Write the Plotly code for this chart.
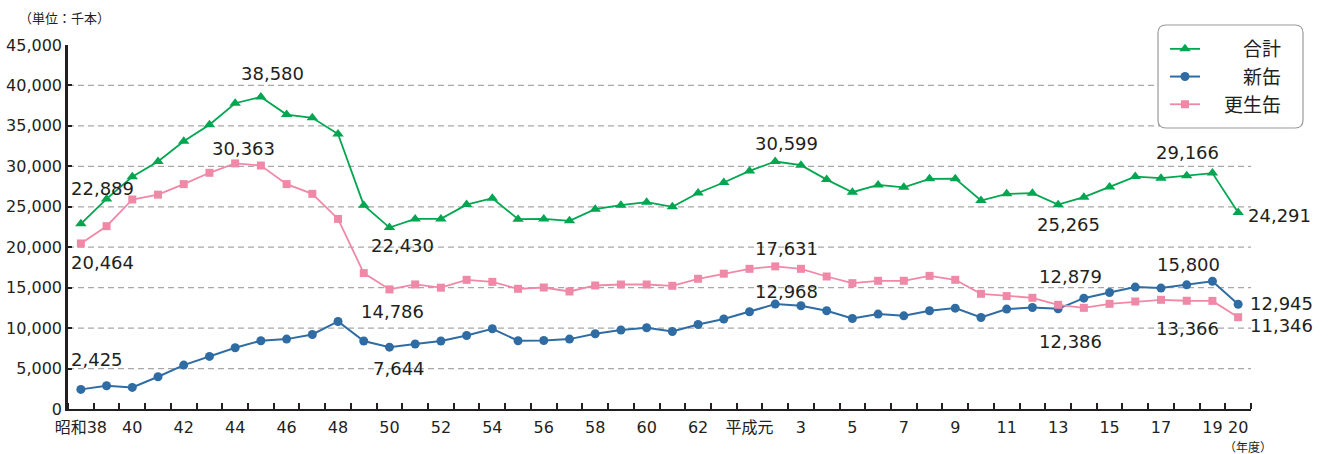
import plotly.graph_objects as go

# ---------------- data ----------------
years = (["昭和" + str(38)] + [str(y) for y in range(39, 64)]
         + ["平成元"] + [str(y) for y in range(2, 21)])

total = [22889, 25970, 28700, 30600, 33100, 35150, 37800, 38580, 36400, 36000,
         34000, 25200, 22430, 23500, 23500, 25270, 26060, 23470, 23500, 23260,
         24700, 25200, 25570, 25000, 26700, 28000, 29430, 30599, 30140, 28360,
         26800, 27700, 27400, 28450, 28480, 25770, 26600, 26680, 25265, 26190,
         27460, 28730, 28530, 28850, 29166, 24291]

new_cans = [2425, 2880, 2670, 3990, 5430, 6500, 7570, 8440, 8640, 9210,
            10820, 8400, 7644, 8030, 8400, 9090, 9920, 8440, 8470, 8640,
            9300, 9760, 10040, 9580, 10450, 11120, 12020, 12968, 12760, 12140,
            11190, 11730, 11520, 12140, 12470, 11310, 12350, 12550, 12386, 13700,
            14400, 15070, 14950, 15350, 15800, 12945]

renewed_cans = [20464, 22600, 25900, 26500, 27800, 29200, 30363, 30100, 27800, 26600,
                23500, 16800, 14786, 15400, 15000, 15970, 15720, 14860, 15020, 14530,
                15270, 15390, 15390, 15230, 16100, 16730, 17330, 17631, 17330, 16380,
                15560, 15850, 15850, 16460, 15970, 14240, 13960, 13750, 12879, 12510,
                13000, 13290, 13500, 13380, 13366, 11346]

tick_text = ["昭和38", "40", "42", "44", "46", "48", "50", "52", "54", "56", "58",
             "60", "62", "平成元", "3", "5", "7", "9", "11", "13", "15", "17", "19", "20"]

y_ticks = [0, 5000, 10000, 15000, 20000, 25000, 30000, 35000, 40000, 45000]
grid_values = [5000, 10000, 15000, 20000, 25000, 30000, 35000, 40000]

series_names = ["合計", "新缶", "更生缶"]

# ---------------- style ----------------
W_FIG, H_FIG = 1328, 454
L, R, T, B = 68, 77, 45, 45
PW, PH = W_FIG - L - R, H_FIG - T - B

TEXT = "#231f20"
NUM_FONT = "DejaVu Sans, Noto Sans CJK JP"
JP_FONT = "Noto Sans CJK JP, DejaVu Sans"

styles = {
    "合計": dict(color="#00a650", symbol="triangle-up", size=10, width=1.8),
    "新缶": dict(color="#2f6ca3", symbol="circle", size=9, width=2),
    "更生缶": dict(color="#f088a8", symbol="square", size=8, width=1.8),
}
legend_text = {"合計": "\u3000\u3000合計", "新缶": "\u3000\u3000新缶", "更生缶": "\u3000更生缶"}
values = {"合計": total, "新缶": new_cans, "更生缶": renewed_cans}

# (series, index, xshift, yshift, xanchor)
label_specs = [
    ("合計", 0, 22, 35, "center"),
    ("更生缶", 0, 22, -19, "center"),
    ("新缶", 0, 16, 30, "center"),
    ("合計", 7, 12, 23, "center"),
    ("更生缶", 6, 8, 15, "center"),
    ("合計", 12, 13, -18, "center"),
    ("更生缶", 12, 3, -22, "center"),
    ("新缶", 12, 10, -21, "center"),
    ("合計", 27, 11, 18, "center"),
    ("更生缶", 27, 11, 18, "center"),
    ("新缶", 27, 11, 13, "center"),
    ("合計", 38, 10, -20, "center"),
    ("更生缶", 38, 12, 28, "center"),
    ("新缶", 38, 12, -33, "center"),
    ("合計", 44, -25, 21, "center"),
    ("新缶", 44, -24, 17, "center"),
    ("更生缶", 44, -25, -28, "center"),
    ("合計", 45, 8, -3, "left"),
    ("新缶", 45, 10, 1, "left"),
    ("更生缶", 45, 10, -8, "left"),
]


def px(xp):
    return (xp - L) / PW


def py(yp):
    return (T + PH - yp) / PH


x_idx = list(range(len(years)))

fig = go.Figure()
for name in series_names:
    st = styles[name]
    fig.add_trace(go.Scatter(
        x=x_idx, y=values[name], mode="lines+markers", name=legend_text[name],
        line=dict(color=st["color"], width=st["width"]),
        marker=dict(symbol=st["symbol"], size=st["size"], color=st["color"]),
        cliponaxis=False,
    ))

for s, i, dx, dy, anchor in label_specs:
    v = values[s][i]
    fig.add_annotation(x=i, y=v, text=f"{v:,}", showarrow=False,
                       xshift=dx, yshift=dy, xanchor=anchor, yanchor="middle",
                       font=dict(family=NUM_FONT, size=18, color=TEXT))

# grid lines (dashed)
for g in grid_values:
    fig.add_shape(type="line", xref="paper", yref="y", x0=0, x1=1, y0=g, y1=g,
                  line=dict(color="#a8a8a8", width=1.2, dash="6px,4px"), layer="below")

# rounded legend box
x0, x1, y0, y1, r = 1158, 1303, 25, 128, 8
path = (f"M {px(x0 + r)},{py(y0)} L {px(x1 - r)},{py(y0)} "
        f"Q {px(x1)},{py(y0)} {px(x1)},{py(y0 + r)} "
        f"L {px(x1)},{py(y1 - r)} Q {px(x1)},{py(y1)} {px(x1 - r)},{py(y1)} "
        f"L {px(x0 + r)},{py(y1)} Q {px(x0)},{py(y1)} {px(x0)},{py(y1 - r)} "
        f"L {px(x0)},{py(y0 + r)} Q {px(x0)},{py(y0)} {px(x0 + r)},{py(y0)} Z")
fig.add_shape(type="path", xref="paper", yref="paper", path=path,
              fillcolor="white", line=dict(color="#9a9a9a", width=1.2), layer="above")

# unit / axis-title texts
fig.add_annotation(xref="paper", yref="paper", x=px(17), y=py(17), text="（単位：千本）",
                   showarrow=False, xanchor="left", yanchor="middle",
                   font=dict(family=JP_FONT, size=13, color=TEXT))
fig.add_annotation(xref="paper", yref="paper", x=px(1222), y=py(446.5), text="（年度）",
                   showarrow=False, xanchor="left", yanchor="middle",
                   font=dict(family=JP_FONT, size=12, color=TEXT))

tick_pos = [years.index(t) for t in tick_text]

fig.update_layout(
    width=W_FIG, height=H_FIG,
    margin=dict(l=L, r=R, t=T, b=B, pad=0, autoexpand=False),
    paper_bgcolor="white", plot_bgcolor="white",
    showlegend=True,
    legend=dict(xref="container", yref="container",
                x=1165 / W_FIG, y=1 - 30 / H_FIG, xanchor="left", yanchor="top",
                bgcolor="rgba(0,0,0,0)", borderwidth=0,
                font=dict(family=JP_FONT, size=19, color=TEXT),
                tracegroupgap=0),
    xaxis=dict(range=[-0.5, len(years) - 0.5], tickmode="array", tickvals=tick_pos,
               ticktext=tick_text, ticks="", showgrid=False, zeroline=False,
               showline=True, linecolor=TEXT, linewidth=2, ticklabelstandoff=3,
               tickfont=dict(family=NUM_FONT, size=16, color=TEXT),
               minor=dict(tickmode="linear", tick0=-0.5, dtick=1, ticks="inside",
                          ticklen=6, tickwidth=1.5, tickcolor=TEXT, showgrid=False)),
    yaxis=dict(range=[0, 45000], tickmode="array", tickvals=y_ticks,
               ticktext=[f"{v:,}" for v in y_ticks], showgrid=False, zeroline=False,
               showline=True, linecolor=TEXT, linewidth=2.5,
               ticks="inside", ticklen=4, tickwidth=1.5, tickcolor=TEXT,
               tickfont=dict(family=NUM_FONT, size=16, color=TEXT)),
)

fig.write_html("out.html")
